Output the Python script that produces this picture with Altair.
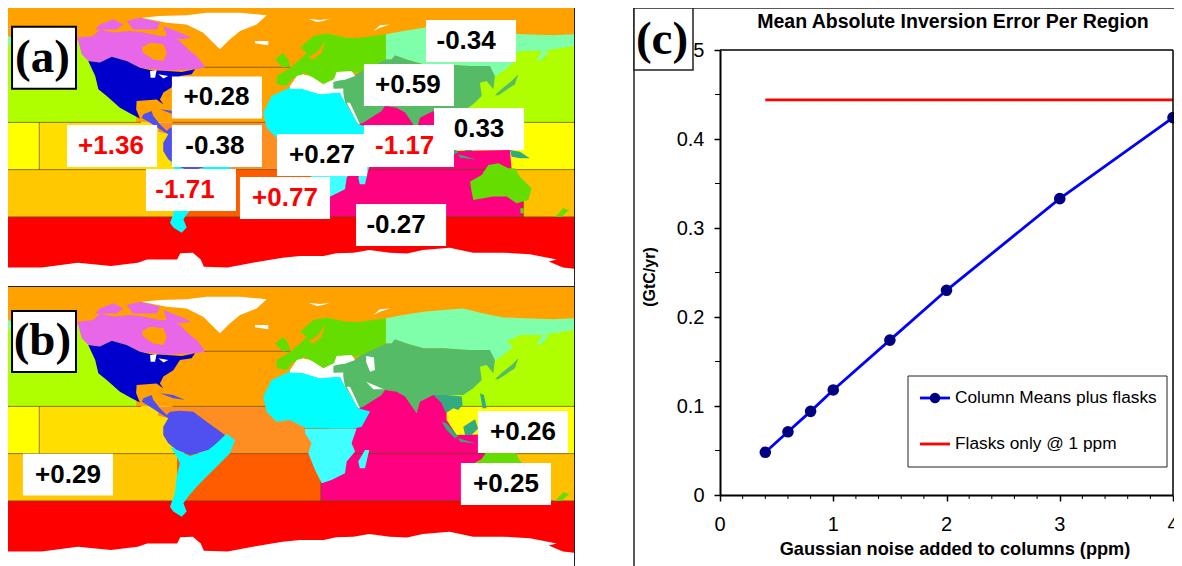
import altair as alt
import pandas as pd

# ---- Panel (c) series -------------------------------------------------
noise_ppm = [0.4, 0.6, 0.8, 1.0, 1.5, 2.0, 3.0, 4.0]
column_error = [0.048, 0.071, 0.094, 0.118, 0.174, 0.230, 0.333, 0.424]
flask_error = [0.444, 0.444, 0.444, 0.444, 0.444, 0.444, 0.444, 0.444]
y_major = [0, 0.1, 0.2, 0.3, 0.4, 0.5]
y_minor = [0.05, 0.15, 0.25, 0.35, 0.45]
x_major = [0, 1, 2, 3, 4]
x_minor = [0.2, 0.4, 0.6, 0.8, 1.2, 1.4, 1.6, 1.8, 2.2, 2.4, 2.6, 2.8, 3.2, 3.4, 3.6, 3.8]

# ---- Map labels (text, colour, box lon, box lat, text lon) -------------
labels_a = [
    ["+0.28", "#000000", -46.7, 30.8, -47.0],
    ["-0.38", "#000000", -46.7, 0.0, -48.0],
    ["+1.36", "#ff0000", -113.3, 0.0, -114.0],
    ["-1.71", "#ff0000", -63.2, -27.9, -67.0],
    ["+0.77", "#ff0000", -3.5, -33.0, -3.5],
    ["+0.27", "#000000", 20.0, -5.7, 20.0],
    ["-1.17", "#ff0000", 75.2, 0.0, 72.5],
    ["0.33", "#000000", 119.7, 10.8, 119.7],
    ["+0.59", "#000000", 75.2, 38.7, 74.5],
    ["-0.34", "#000000", 114.6, 66.7, 111.5],
    ["-0.27", "#000000", 70.2, -50.2, 67.0],
]
labels_b = [
    ["+0.29", "#000000", -141.3, -28.3, -141.3],
    ["+0.26", "#000000", 147.6, -1.3, 147.6],
    ["+0.25", "#000000", 136.8, -34.3, 136.8],
]

# ---- Regions in lon/lat, drawn in order --------------------------------
C_ORANGE = "#ffa200"
C_WHITE = "#ffffff"
C_TEAL = "#33aa80"
C_GREEN = "#66dd00"
C_TEMP = "#55bb66"
def box(w, e, s, n):
    return [[w, s], [e, s], [e, n], [w, n]]

oceans = [
    (C_ORANGE, box(-180, 180, 45, 95)),
    ("#b0ff00", box(-180, -90, 15, 67)),
    (C_ORANGE, box(-98, 8, 15, 50)),
    ("#b0ff00", box(100, 180, 15, 66)),
    ("#ffff00", box(95, 180, -15, 15)),
    ("#ffff00", box(-180, -159, -15, 15)),
    ("#ffde00", box(-159, -65, -15, 15)),
    ("#ffc800", box(-180, -70, -45, -15)),
    ("#ffc000", box(140, 180, -45, -15)),
    ("#ff8e22", [[-65, -15], [25, -15], [25, 15], [-84, 15], [-84, 9], [-65, 5]]),
    ("#ff5c00", box(-72, 19.2, -45, -15)),
    ("#ff0080", [[19.2, -45.5], [147.8, -45.5], [147.8, -34], [143.6, -15.9], [140.4, -14.8], [139.3, -2.5],
                 [105.5, -3.2], [99.1, 6.4], [99.1, 14.8], [90.7, 23.3], [60, 27.5], [42, 14.8], [40, 1], [19.2, -15.8]]),
    ("#ff0000", box(-180, 180, -95, -45)),
]
boundaries = [
    [[-55, 50], [0, 50]],
    [[-180, 15], [-95, 15]],
    [[-75, 15], [-15, 15]],
    [[100, 15], [180, 15]],
    [[-180, -15], [180, -15]],
    [[-180, -45], [180, -45]],
    [[-159.5, 15], [-159.5, -15]],
    [[19.2, -15], [19.2, -45]],
    [[147.8, -34], [147.8, -45]],
    [[9, 1], [42, 1]],
]
land = [
    (C_WHITE, [[-180, -77.2], [-158, -77.2], [-135, -74.1], [-114, -76.2], [-97, -74.1], [-91, -72], [-72, -72],
               [-70, -68.1], [-62, -67.7], [-57, -72], [-55, -76.6], [-40, -77.2], [-24, -74.1], [-5, -71], [6, -69.8],
               [21, -69.8], [29, -68.1], [40, -67.7], [50, -66], [63, -67.7], [74, -68.3], [84, -66], [101, -64.6],
               [116, -67.7], [135, -67.7], [152, -68.8], [169, -72], [164, -73.4], [173, -77.2], [180, -77.9], [180, -95], [-180, -95]]),
    ("#e866e8", [[-135.3, 68.8], [-125.2, 69.8], [-121, 74], [-112.5, 72], [-102, 73], [-93.4, 72], [-82.9, 69.8],
                 [-74.4, 69.8], [-69.1, 65.6], [-63.8, 60.3], [-59.6, 57.1], [-55.4, 51.9], [-54.3, 49.7], [-60.6, 48.7],
                 [-78.6, 48], [-95.6, 49.7], [-104, 54], [-113.5, 56.7], [-121, 53], [-128.4, 54], [-132.6, 58.2]]),
    (C_ORANGE, [[-94.5, 62.4], [-89.2, 65.6], [-80.7, 64.6], [-78.6, 59.2], [-80.7, 54], [-87.1, 55], [-93.4, 59.2]]),
    ("#e866e8", [[-124, 74], [-121, 77.2], [-112.5, 80.4], [-106.1, 77.2], [-110.4, 74]]),
    ("#e866e8", [[-104, 79.4], [-95.6, 81.5], [-82.9, 78.3], [-85, 74], [-99.8, 74]]),
    ("#e866e8", [[-80.7, 76.2], [-70.2, 72], [-62.8, 68.8], [-70.2, 67.7], [-78.6, 69.8]]),
    ("#0000cc", [[-128.4, 54], [-121, 53], [-113.5, 56.7], [-104, 54], [-95.6, 49.7], [-89.2, 48.3], [-78.6, 47.6],
                 [-69, 47], [-60.6, 48.7], [-62.8, 45.5], [-70.2, 44.4], [-74.4, 38], [-80.7, 33.9], [-82.9, 29.6],
                 [-80.7, 26.4], [-85, 29.6], [-97.7, 28.6], [-98, 23.3], [-95.6, 17.4], [-100.9, 20.1], [-108.3, 24.3],
                 [-116.7, 31.8], [-122, 36], [-124, 44.4]]),
    (C_WHITE, [[-89.2, 47.6], [-85, 48.3], [-86, 43.4], [-88.8, 43.4]]),
    (C_WHITE, [[-83.9, 45.5], [-77.6, 44.4], [-80.7, 42.8]]),
    (C_WHITE, [[-94.5, 81.5], [-82.9, 82.5], [-66, 83], [-53.2, 84.6], [-32, 84.6], [-15.1, 83], [-21.5, 77.2], [-32, 73],
               [-38.4, 67.7], [-44.8, 61.4], [-49, 65.6], [-55.4, 71.9], [-66, 77.2], [-78.6, 78.3]]),
    (C_WHITE, [[-22.6, 66.7], [-14.1, 66.7], [-14.1, 64], [-22.6, 65.2]]),
    (C_WHITE, [[11.3, 80.8], [18.7, 80], [25, 80.8], [20.8, 79.4], [16.6, 78.7]]),
    (C_WHITE, [[52.6, 73], [56.8, 76.6], [63.2, 77.2], [56.8, 75.1]]),
    ("#5050f0", [[-93.4, 20.1], [-88.2, 22.2], [-87.1, 19], [-82.9, 13.8], [-78.6, 9.5], [-76.5, 11.6], [-70.2, 12.3],
                 [-61.7, 11.6], [-53.2, 5.3], [-41.6, -3.2], [-49, -10.6], [-52.2, -12.7], [-63.8, -15.9], [-72.3, -12.7],
                 [-77.6, -8.4], [-80.8, -3.2], [-80.8, 2.1], [-77.6, 7.4], [-82.9, 10.6], [-89.2, 14.8], [-94.5, 18]]),
    ("#5050f0", [[-82.9, 23.3], [-74.4, 22.2], [-67, 19], [-74.4, 20.1]]),
    ("#00ffff", [[-76.5, -10.6], [-63.8, -16.5], [-52.2, -12.7], [-46.9, -8.4], [-40.5, -2.5], [-35.2, -6.3], [-38.4, -14.8],
                 [-46.9, -23.3], [-53.2, -29.6], [-59.6, -36], [-64.9, -42.3], [-68, -46.5], [-65.9, -51.8], [-69.1, -55],
                 [-74.4, -51.8], [-76.5, -48.7], [-73.4, -40.2], [-72.3, -29.6], [-70.2, -21.1], [-73.4, -14.8]]),
    (C_GREEN, [[1.8, 50.8], [-8.8, 44.4], [-8.8, 39.2], [-2.5, 38.1], [1.8, 43.4], [6, 42.3], [8.2, 46.5], [14.5, 43.4],
               [20.8, 39.2], [27.2, 42.3], [35.7, 45.5], [45.2, 47.6], [60.6, 55], [60.6, 70.9], [44.1, 68.8], [35.7, 68.8],
               [23, 71.5], [14.5, 69.8], [6, 62.4], [10.3, 59.2], [6, 55], [-0.3, 49.8]]),
    (C_GREEN, [[-9.9, 55], [-4.6, 59.2], [-1.4, 55], [-0.3, 50.8], [-4.6, 49.7]]),
    (C_ORANGE, [[11.3, 56], [17.7, 60.3], [21.9, 66.7], [19.8, 59.2], [14.5, 55]]),
    ("#7fffaa", [[60.6, 70.9], [71.6, 73], [84.3, 75.1], [97, 76.2], [109.7, 77.2], [122.4, 74], [135.1, 71.5], [147.8, 70.9],
                 [166.8, 70.3], [180, 70.9], [180, 63.5], [160.5, 60.3], [145.7, 60.3], [137.2, 56.1], [141.4, 52.9],
                 [135.1, 47.6], [128.8, 43.4], [126.6, 50.8], [114, 50.8], [97, 51.9], [84.3, 51.9], [73.7, 55], [67.4, 57.1],
                 [64.2, 55], [60.6, 55]]),
    ("#7fffaa", [[156, 54], [160, 60.3], [164, 60], [160, 55]]),
    ("#7fffaa", [[-180, 70], [-177, 69], [-177, 64], [-180, 64]]),
    (C_TEMP, [[60.6, 55], [64.2, 55], [66.3, 57.6], [73.7, 55], [84.3, 51.9], [97, 51.9], [114, 50.8], [126.6, 50.8],
              [129.8, 44.4], [128.8, 36], [124.5, 41.3], [120.3, 40.2], [121.4, 31.8], [116, 26.5], [109.7, 22.2], [90.7, 22.2],
              [82.2, 18], [80.1, 10.6], [72.7, 21.2], [67.4, 24.3], [60, 25.4], [57.9, 22.2], [46.2, 14.8], [43, 13.8], [34.6, 27.5],
              [33.5, 33.9], [27.2, 36.5], [27.2, 40.6], [39.9, 44.4], [45.2, 47.6]]),
    (C_TEMP, [[129.8, 32.2], [135, 37], [140.4, 41.3], [144.6, 45.5], [142.5, 39.2], [136.1, 35], [132, 32.2]]),
    (C_TEAL, [[99.1, 22.2], [108.7, 21.2], [109.3, 15.9], [106.5, 12.7], [103.4, 13.8], [98.7, 10.6], [96, 17], [90.7, 22.2]]),
    (C_TEAL, [[96, 5.3], [99.1, 4.3], [106.5, -4.2], [104.4, -5.3], [99.1, 0]]),
    (C_TEAL, [[109.7, 2.1], [117.1, 6.8], [119.2, 1], [115, -3.2], [110.8, -3.2]]),
    (C_TEAL, [[106.5, -5.3], [118.2, -8.5], [107.6, -7.4]]),
    (C_TEAL, [[139.3, -2.5], [145.7, -3.6], [152, -7.8], [145.7, -7.8], [140.4, -6.8]]),
    (C_TEAL, [[120.3, 23.3], [122.8, 22.2], [124.5, 13.8], [122, 13.8]]),
    (C_GREEN, [[114, -22.6], [121.4, -18.4], [125.6, -12], [132, -11], [138.3, -14.2], [142.5, -14.2], [145.7, -19.5],
               [153.1, -26.9], [151, -34.3], [143.6, -36.4], [137.2, -32.1], [128.8, -32.1], [116.1, -34.3], [115, -29]]),
    (C_GREEN, [[146, -39.5], [148, -39.5], [148, -42.7], [146, -42.7]]),
    (C_GREEN, [[168, -44.9], [173.2, -39.5], [177, -40.6], [172, -44.9]]),
    ("#00ffff", [[-17.3, 21.2], [-12, 31.8], [-2.5, 36], [-0.3, 37.7], [8, 36], [18.7, 32.8], [31.4, 33.9], [34.6, 27.5], [43, 13.8],
                 [50.5, 11.7], [45.2, 2.1], [41, 1.1], [9.2, 1.5], [-0.3, 6.4], [-8.8, 5.3], [-15.2, 11.6]]),
    ("#40ffff", [[9.2, 1], [42, 1], [38.8, -8.4], [41, -13.7], [35.7, -20], [34.6, -27.5], [26, -31.7], [19.8, -33.8],
                 [15.6, -25.4], [11.3, -14.8], [13.4, -8.4], [9.2, -2.1]]),
    ("#40ffff", [[47.3, -12.7], [50, -12.7], [47.3, -24.3], [44, -24.3], [43, -20]]),
    (C_WHITE, [[-0.3, 38.1], [4, 44.4], [8.2, 45.5], [13.4, 42.3], [19.8, 38.1], [23, 36.2], [33.5, 36.5], [33.5, 33.9],
               [27.2, 33.9], [19.8, 32.8], [12.4, 35], [8.2, 36.4], [-0.3, 36.4]]),
    (C_WHITE, [[27.2, 41.3], [29.3, 47], [38.8, 47.6], [41, 44.4], [34.6, 42]]),
    (C_WHITE, [[48, 47], [53, 46], [53.6, 38.1], [50.5, 37], [48, 43.4]]),
    (C_WHITE, [[48, 30.7], [59.3, 25.8], [52.6, 25.8]]),
    (C_WHITE, [[35.6, 27.5], [37.8, 27.5], [44.1, 13.8], [43, 13.8]]),
]


def map_panel(labels, tag, tag_lat, tag_half, lat_shift):
    # The two map panels share one projection, so panel (b) is moved by a latitude shift.
    def ring_shift(ring):
        return [[p[0], p[1] + lat_shift] for p in ring]

    def polygon(colour, ring):
        r = ring_shift(ring)
        return {"type": "Feature", "properties": {"c": colour},
                "geometry": {"type": "Polygon", "coordinates": [r + [r[0]]]}}

    def line(coords):
        return {"type": "Feature", "properties": {"c": "none"},
                "geometry": {"type": "LineString", "coordinates": ring_shift(coords)}}

    fills = [polygon(c, r) for c, r in oceans]
    rules = [line(c) for c in boundaries]
    shapes = [polygon(c, r) for c, r in land]
    boxes = [polygon("#ffffff", box(l[2] - 28.6, l[2] + 28.6, l[3] - 13.3, l[3] + 13.3)) for l in labels]
    text_df = pd.DataFrame({"t": [l[0] for l in labels], "c": [l[1] for l in labels],
                            "lon": [l[4] for l in labels], "lat": [l[3] + lat_shift for l in labels]})
    tag_df = pd.DataFrame({"t": [tag], "lon": [-157.5], "lat": [tag_lat + lat_shift]})

    def geo(features, **kw):
        return alt.Chart(alt.Data(values=features)).mark_geoshape(clip=True, **kw).encode(
            fill=alt.Fill("properties.c:N", scale=None))

    l1 = geo(fills, strokeWidth=0)
    l2 = alt.Chart(alt.Data(values=rules)).mark_geoshape(filled=False, stroke="#6a4a00", strokeWidth=1, strokeOpacity=0.75, clip=True)
    l3 = geo(shapes, strokeWidth=0)
    l4 = geo(boxes, strokeWidth=0)
    l5 = geo([polygon("#ffffff", box(-176.8, -136.2, tag_lat - tag_half, tag_lat + tag_half))], stroke="#000000", strokeWidth=2)
    l6 = alt.Chart(text_df).mark_text(font="Liberation Sans", fontWeight="bold", fontSize=26, baseline="middle", align="center").encode(
        longitude="lon:Q", latitude="lat:Q", text="t:N", color=alt.Color("c:N", scale=None))
    l7 = alt.Chart(tag_df).mark_text(font="Liberation Serif", fontWeight="bold", fontSize=47, baseline="middle", align="center").encode(
        longitude="lon:Q", latitude="lat:Q", text="t:N", color=alt.value("#000000"))
    return alt.layer(l1, l2, l3, l4, l5, l6, l7).project(
        type="identity", reflectY=True, scale=1.575, translate=[282.5, 138]
    ).properties(width=566, height=279, view=alt.ViewConfig(stroke="#222222", strokeWidth=2))


panel_a = map_panel(labels_a, "(a)", 56, 19.7, 0)
panel_b = map_panel(labels_b, "(b)", 56.2, 19.4, -3.175)

# ---- Panel (c) ---------------------------------------------------------
one = pd.DataFrame({"k": [1]})
series = pd.DataFrame({"x": noise_ppm, "col": column_error, "flask": flask_error})
xs = alt.Scale(domain=[0, 4], range=[0, 453], nice=False)
ys = alt.Scale(domain=[0, 0.5], range=[487, 42], nice=False)

x_axis = alt.Axis(values=x_major, title=None, labels=False, offset=-63, tickSize=6, tickWidth=1.5, tickColor="#000000",
                  domainColor="#000000", domainWidth=2, grid=False)
y_axis = alt.Axis(values=y_major, title=None, labelFont="Liberation Sans", labelFontSize=20, labelColor="#000000",
                  labelPadding=10, tickSize=6, tickWidth=1.5, tickColor="#000000", domainColor="#000000", domainWidth=2, grid=False,
                  labelExpr="datum.value === 0 ? '0' : format(datum.value, '.1f')")

red = alt.Chart(series).mark_line(color="#ff0000", strokeWidth=2.8).encode(
    x=alt.X("x:Q", scale=xs, axis=x_axis), y=alt.Y("flask:Q", scale=ys, axis=y_axis))
blue = alt.Chart(series).mark_line(color="#0000ff", strokeWidth=2.8).encode(
    x=alt.X("x:Q", scale=xs), y=alt.Y("col:Q", scale=ys))
dots = alt.Chart(series).mark_point(filled=True, color="#000080", size=135, opacity=1).encode(
    x=alt.X("x:Q", scale=xs), y=alt.Y("col:Q", scale=ys))
minor_y = alt.Chart(pd.DataFrame({"m": y_minor})).mark_rule(color="#000000", strokeWidth=1).encode(
    y=alt.Y("m:Q", scale=ys), x=alt.value(-5), x2=alt.value(0))
minor_x = alt.Chart(pd.DataFrame({"m": x_minor})).mark_rule(color="#000000", strokeWidth=1).encode(
    x=alt.X("m:Q", scale=xs), y=alt.value(487), y2=alt.value(491))
top_line = alt.Chart(one).mark_rule(color="#000000", strokeWidth=1.5).encode(
    y=alt.Y(datum=0.5, scale=ys), x=alt.value(0), x2=alt.value(453))
right_line = alt.Chart(one).mark_rule(color="#000000", strokeWidth=1.5).encode(
    x=alt.X(datum=4, scale=xs), y=alt.value(42), y2=alt.value(487))
frame_l = alt.Chart(one).mark_rule(color="#222222", strokeWidth=1.5).encode(
    x=alt.value(-86), y=alt.value(0), y2=alt.value(558))
frame_t = alt.Chart(one).mark_rule(color="#222222", strokeWidth=1.5).encode(
    y=alt.value(0), x=alt.value(-86), x2=alt.value(454))
c_box = alt.Chart(one).mark_rect(fill="#ffffff", stroke="#222222", strokeWidth=1.5).encode(
    x=alt.value(-86), x2=alt.value(-27), y=alt.value(0), y2=alt.value(62))
c_tag = alt.Chart(one).mark_text(text="(c)", font="Liberation Serif", fontWeight="bold", fontSize=47, color="#000000", baseline="middle").encode(
    x=alt.value(-58), y=alt.value(32))
title = alt.Chart(one).mark_text(text="Mean Absolute Inversion Error Per Region", font="Liberation Sans", fontWeight="bold",
                                 fontSize=19.5, color="#000000", baseline="middle").encode(x=alt.value(233), y=alt.value(14))
x_labels = alt.Chart(pd.DataFrame({"v": x_major})).mark_text(font="Liberation Sans", fontSize=20, color="#000000", baseline="middle").encode(
    x=alt.X("v:Q", scale=xs), y=alt.value(517), text="v:Q")
x_title = alt.Chart(one).mark_text(text="Gaussian noise added to columns (ppm)", font="Liberation Sans", fontWeight="bold",
                                   fontSize=18.2, color="#000000", baseline="middle").encode(x=alt.value(235), y=alt.value(542))
y_title = alt.Chart(one).mark_text(text="(GtC/yr)", font="Liberation Sans", fontWeight="bold", fontSize=16, color="#000000",
                                   baseline="middle", angle=270).encode(x=alt.value(-70), y=alt.value(269))
leg_box = alt.Chart(one).mark_rect(fill="#ffffff", stroke="#222222", strokeWidth=1).encode(
    x=alt.value(188), x2=alt.value(447), y=alt.value(368), y2=alt.value(459))
leg_blue = alt.Chart(one).mark_rule(color="#0000ff", strokeWidth=2.8).encode(
    x=alt.value(200), x2=alt.value(230), y=alt.value(390))
leg_dot = alt.Chart(one).mark_point(filled=True, color="#000080", size=110, opacity=1).encode(
    x=alt.value(215), y=alt.value(390))
leg_red = alt.Chart(one).mark_rule(color="#ff0000", strokeWidth=2.8).encode(
    x=alt.value(200), x2=alt.value(230), y=alt.value(436))
leg_t1 = alt.Chart(one).mark_text(text="Column Means plus flasks", font="Liberation Sans", fontSize=17.3, color="#000000", align="left", baseline="middle").encode(
    x=alt.value(235), y=alt.value(390))
leg_t2 = alt.Chart(one).mark_text(text="Flasks only @ 1 ppm", font="Liberation Sans", fontSize=17.3, color="#000000", align="left", baseline="middle").encode(
    x=alt.value(235), y=alt.value(436))

panel_c = alt.layer(red, blue, dots, minor_y, minor_x, top_line, right_line, frame_l, frame_t, c_box, c_tag, title,
                    x_labels, x_title, y_title, leg_box, leg_blue, leg_dot, leg_red, leg_t1, leg_t2).properties(
    width=454, height=550, view=alt.ViewConfig(stroke="transparent"))

left = alt.vconcat(panel_a, panel_b, spacing=0, bounds="flush")
chart = alt.hconcat(left, panel_c, spacing=712, bounds="flush",
                    autosize=alt.AutoSizeParams(type="none"),
                    padding={"left": 0, "top": 0, "right": 1166, "bottom": 558})
chart.save("out.html", embed_options={"renderer": "svg", "actions": False})
